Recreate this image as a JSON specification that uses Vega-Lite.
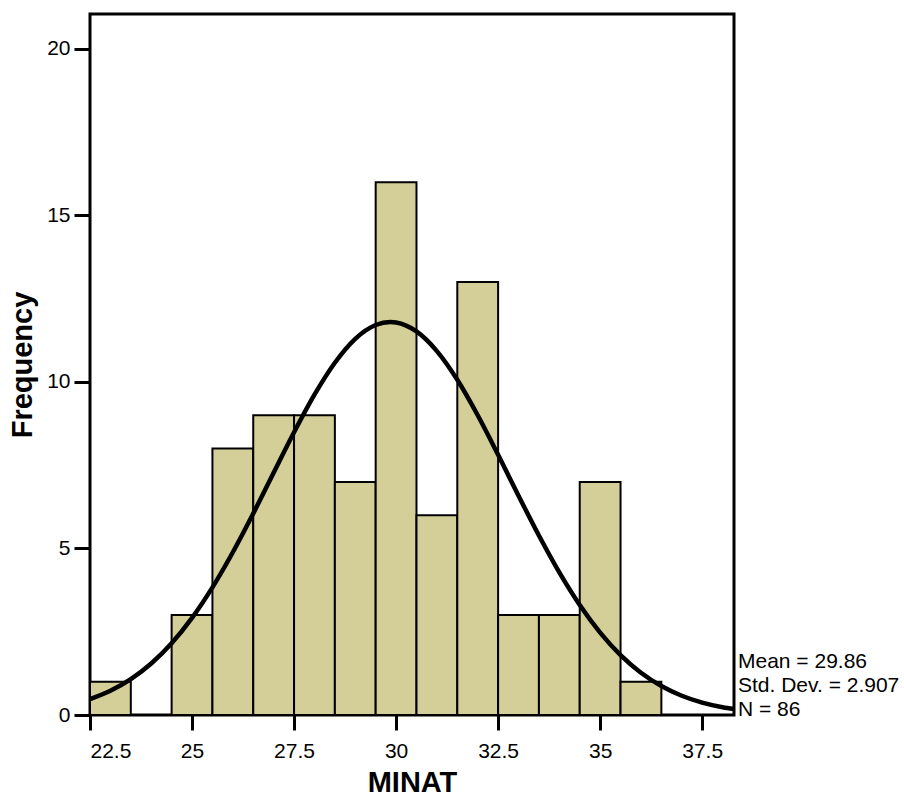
{
  "$schema": "https://vega.github.io/schema/vega-lite/v6.json",
  "width": 644,
  "height": 701,
  "autosize": "none",
  "padding": {"left": 90, "top": 14, "right": 170, "bottom": 79},
  "background": "white",
  "config": {
    "font": "Liberation Sans",
    "view": {"stroke": "black", "strokeWidth": 3},
    "axis": {
      "grid": false,
      "domain": false,
      "ticks": true,
      "tickColor": "black",
      "tickWidth": 3,
      "labelColor": "black",
      "labelFont": "Liberation Sans",
      "labelFontSize": 21,
      "titleFont": "Liberation Sans",
      "titleFontSize": 29,
      "titleFontWeight": "bold",
      "titleColor": "black"
    }
  },
  "datasets": {
    "bins": [
      {"start": 22.5, "end": 23.5, "count": 1},
      {"start": 24.5, "end": 25.5, "count": 3},
      {"start": 25.5, "end": 26.5, "count": 8},
      {"start": 26.5, "end": 27.5, "count": 9},
      {"start": 27.5, "end": 28.5, "count": 9},
      {"start": 28.5, "end": 29.5, "count": 7},
      {"start": 29.5, "end": 30.5, "count": 16},
      {"start": 30.5, "end": 31.5, "count": 6},
      {"start": 31.5, "end": 32.5, "count": 13},
      {"start": 32.5, "end": 33.5, "count": 3},
      {"start": 33.5, "end": 34.5, "count": 3},
      {"start": 34.5, "end": 35.5, "count": 7},
      {"start": 35.5, "end": 36.5, "count": 1}
    ],
    "curve": [
      {"x": 22.5, "y": 0.479},
      {"x": 23.0, "y": 0.729},
      {"x": 23.5, "y": 1.078},
      {"x": 24.0, "y": 1.547},
      {"x": 24.5, "y": 2.156},
      {"x": 25.0, "y": 2.918},
      {"x": 25.5, "y": 3.833},
      {"x": 26.0, "y": 4.888},
      {"x": 26.5, "y": 6.051},
      {"x": 27.0, "y": 7.274},
      {"x": 27.5, "y": 8.489},
      {"x": 28.0, "y": 9.618},
      {"x": 28.5, "y": 10.578},
      {"x": 29.0, "y": 11.297},
      {"x": 29.5, "y": 11.712},
      {"x": 29.86, "y": 11.802},
      {"x": 30.0, "y": 11.788},
      {"x": 30.5, "y": 11.519},
      {"x": 31.0, "y": 10.928},
      {"x": 31.5, "y": 10.066},
      {"x": 32.0, "y": 9.001},
      {"x": 32.5, "y": 7.814},
      {"x": 33.0, "y": 6.586},
      {"x": 33.5, "y": 5.389},
      {"x": 34.0, "y": 4.281},
      {"x": 34.5, "y": 3.301},
      {"x": 35.0, "y": 2.472},
      {"x": 35.5, "y": 1.797},
      {"x": 36.0, "y": 1.268},
      {"x": 36.5, "y": 0.869},
      {"x": 37.0, "y": 0.578},
      {"x": 37.5, "y": 0.373},
      {"x": 38.0, "y": 0.234},
      {"x": 38.28, "y": 0.178}
    ],
    "stats": [
      {"label": ["Mean = 29.86", "Std. Dev. = 2.907", "N = 86"], "x": 38.28, "y": 0}
    ]
  },
  "layer": [
    {
      "data": {"name": "bins"},
      "mark": {"type": "bar", "fill": "#d4cf99", "stroke": "black", "strokeWidth": 2},
      "encoding": {
        "x": {
          "field": "start",
          "type": "quantitative",
          "scale": {"domain": [22.5, 38.28], "nice": false, "zero": false},
          "axis": {
            "title": "MINAT",
            "values": [22.5, 25, 27.5, 30, 32.5, 35, 37.5],
            "labelExpr": "'' + datum.value",
            "tickSize": 15,
            "labelPadding": 10,
            "titlePadding": 7
          }
        },
        "x2": {"field": "end"},
        "y": {
          "field": "count",
          "type": "quantitative",
          "scale": {"domain": [0, 21.05], "nice": false},
          "axis": {
            "title": "Frequency",
            "values": [0, 5, 10, 15, 20],
            "tickSize": 16,
            "labelPadding": 4,
            "titlePadding": 9
          }
        },
        "y2": {"datum": 0}
      }
    },
    {
      "data": {"name": "curve"},
      "mark": {"type": "line", "color": "black", "strokeWidth": 4.5, "interpolate": "monotone"},
      "encoding": {
        "x": {"field": "x", "type": "quantitative"},
        "y": {"field": "y", "type": "quantitative"}
      }
    },
    {
      "data": {"name": "stats"},
      "mark": {"type": "text", "align": "left", "baseline": "bottom", "fontSize": 21, "lineHeight": 24, "dx": 4, "dy": -43, "color": "black", "font": "Liberation Sans"},
      "encoding": {
        "x": {"field": "x", "type": "quantitative"},
        "y": {"field": "y", "type": "quantitative"},
        "text": {"field": "label"}
      }
    }
  ]
}
